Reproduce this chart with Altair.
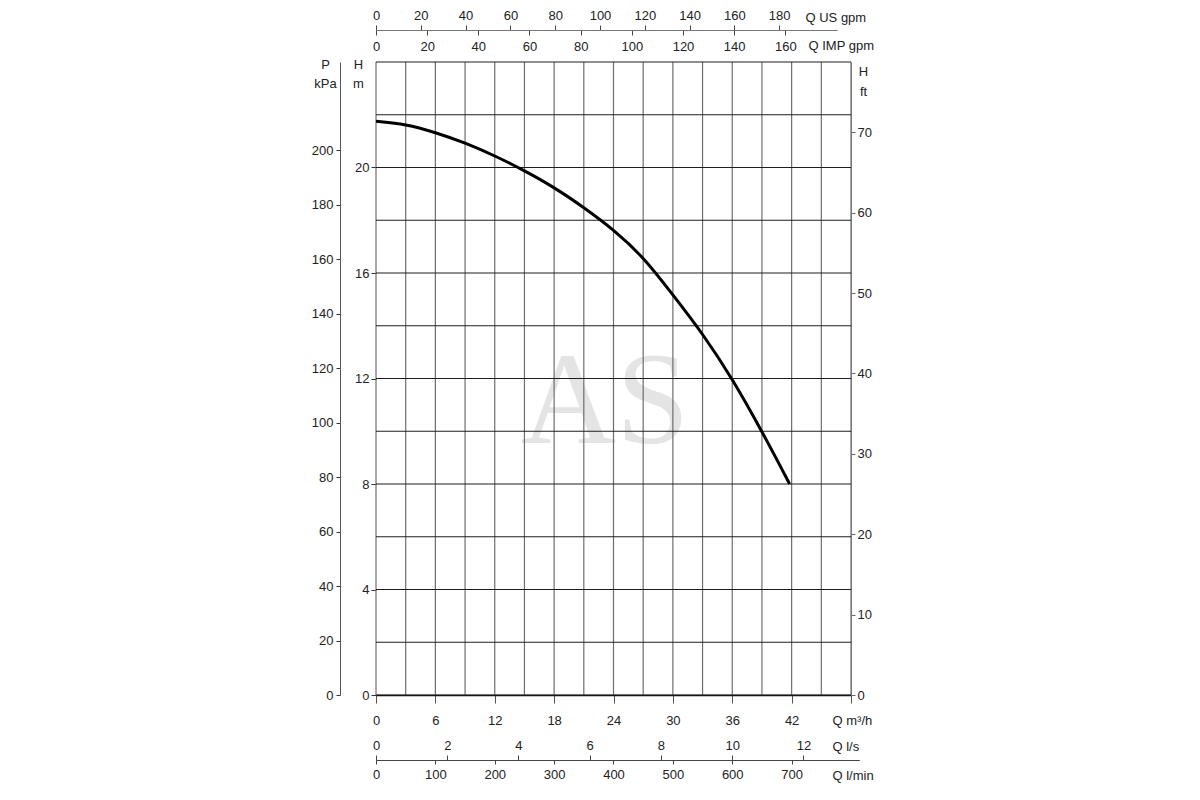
import altair as alt
import pandas as pd

# ---- data ----
q_m3h = [0, 3, 6, 9, 12, 15, 18, 21, 24, 27, 30, 33, 36, 39, 41.8]
h_m = [21.75, 21.65, 21.33, 20.94, 20.45, 19.88, 19.25, 18.49, 17.65, 16.62, 15.17, 13.71, 12.0, 10.0, 8.0]

grid_q = [0, 3, 6, 9, 12, 15, 18, 21, 24, 27, 30, 33, 36, 39, 42, 45, 48]
grid_h = [0, 2, 4, 6, 8, 10, 12, 14, 16, 18, 20, 22, 24]

m3h_ticks = [0, 6, 12, 18, 24, 30, 36, 42, 48]
hm_ticks = [0, 4, 8, 12, 16, 20]
kpa_ticks = [0, 20, 40, 60, 80, 100, 120, 140, 160, 180, 200]
ft_ticks = [0, 10, 20, 30, 40, 50, 60, 70]
us_ticks = [0, 20, 40, 60, 80, 100, 120, 140, 160, 180]
imp_ticks = [0, 20, 40, 60, 80, 100, 120, 140, 160]
ls_ticks = [0, 2, 4, 6, 8, 10, 12]
lmin_ticks = [0, 100, 200, 300, 400, 500, 600, 700]

W, H = 475, 633
FONT = "Liberation Sans"

def df(vals):
    return pd.DataFrame({"v": vals})

def ax(**kw):
    base = dict(labelFont=FONT, labelFontSize=13, labelColor="#222", labelFlush=False,
                titleFont=FONT, titleFontSize=13, titleFontWeight="normal",
                titleColor="#222", grid=False, tickColor="#333", domainColor="#333")
    base.update(kw)
    return alt.Axis(**base)

xs = alt.Scale(domain=[0, 48], nice=False, zero=False)
ys = alt.Scale(domain=[0, 24], nice=False, zero=False)

# watermark
wm = alt.Chart(pd.DataFrame({"t": ["AS"]})).mark_text(
    font="Liberation Serif", fontSize=132, color="#e4e4e4", align="center", baseline="alphabetic"
).encode(text="t:N", x=alt.value(229), y=alt.value(381))

# vertical grid (with bottom m3/h axis)
vgrid = alt.Chart(df(grid_q)).mark_rule(color="#6e6e6e", strokeWidth=1.2).encode(
    x=alt.X("v:Q", scale=xs, axis=ax(
        orient="bottom", values=m3h_ticks, tickSize=8, labelPadding=11,
        labelExpr="datum.value == 48 ? '' : datum.label",
        domainColor="#111", domainWidth=1.4, tickColor="#555",
        title="Q m³/h", titleX=456, titleY=25, titleAlign="left", titleBaseline="middle")))

# horizontal grid (with left H m axis)
hgrid = alt.Chart(df(grid_h)).mark_rule(color="#1e1e1e", strokeWidth=1.2).encode(
    y=alt.Y("v:Q", scale=ys, axis=ax(
        orient="left", values=hm_ticks, tickSize=5, labelPadding=2, domain=False,
        title=["H", "m"], titleAngle=0, titleX=-18, titleY=6, titleAlign="center",
        titleBaseline="alphabetic", titleLineHeight=19)))

curve = alt.Chart(pd.DataFrame({"q": q_m3h, "h": h_m})).mark_line(
    color="#000", strokeWidth=3, interpolate="basis"
).encode(
    x=alt.X("q:Q", scale=xs, axis=None),
    y=alt.Y("h:Q", scale=ys, axis=None),
)

inv = dict(opacity=0, size=1)

kpa = alt.Chart(df(kpa_ticks)).mark_point(**inv).encode(
    y=alt.Y("v:Q", scale=alt.Scale(domain=[0, 232.3], nice=False, zero=False), axis=ax(
        orient="left", offset=36, values=kpa_ticks, tickSize=4, labelPadding=3,
        domainColor="#555",
        title=["P", "kPa"], titleAngle=0, titleX=-15, titleY=6, titleAlign="center",
        titleBaseline="alphabetic", titleLineHeight=19)))

ft = alt.Chart(df(ft_ticks)).mark_point(**inv).encode(
    y=alt.Y("v:Q", scale=alt.Scale(domain=[0, 78.74], nice=False, zero=False), axis=ax(
        orient="right", values=ft_ticks, tickSize=4, labelPadding=2,
        domainColor="#888", tickColor="#666",
        title=["H", "ft"], titleAngle=0, titleX=12, titleY=13, titleAlign="center",
        titleBaseline="alphabetic", titleLineHeight=20)))

us = alt.Chart(df(us_ticks)).mark_point(**inv).encode(
    x=alt.X("v:Q", scale=alt.Scale(domain=[0, 205.8], range=[0, 461], nice=False, zero=False), axis=ax(
        orient="top", offset=32, values=us_ticks, tickSize=5, labelPadding=3,
        domainColor="#777", tickColor="#444",
        title="Q US gpm", titleX=429, titleY=-13, titleAlign="left", titleBaseline="middle")))

imp = alt.Chart(df(imp_ticks)).mark_point(**inv).encode(
    x=alt.X("v:Q", scale=alt.Scale(domain=[0, 180.2], range=[0, 461], nice=False, zero=False), axis=ax(
        orient="bottom", offset=-665, values=imp_ticks, tickSize=5, labelPadding=5,
        domainColor="#777", tickColor="#444",
        title="Q IMP gpm", titleX=432, titleY=15, titleAlign="left", titleBaseline="middle")))

ls = alt.Chart(df(ls_ticks)).mark_point(**inv).encode(
    x=alt.X("v:Q", scale=alt.Scale(domain=[0, 13.56], range=[0, 483], nice=False, zero=False), axis=ax(
        orient="top", offset=-698, values=ls_ticks, tickSize=5, labelPadding=3,
        domainColor="#444", tickColor="#444",
        title="Q l/s", titleX=456, titleY=-14, titleAlign="left", titleBaseline="middle")))

lmin = alt.Chart(df(lmin_ticks)).mark_point(**inv).encode(
    x=alt.X("v:Q", scale=alt.Scale(domain=[0, 813.5], range=[0, 483], nice=False, zero=False), axis=ax(
        orient="bottom", offset=65, values=lmin_ticks, tickSize=4, labelPadding=4,
        domainColor="#444", tickColor="#444",
        title="Q l/min", titleX=456, titleY=15, titleAlign="left", titleBaseline="middle")))

chart = alt.layer(wm, vgrid, hgrid, curve, kpa, ft, us, imp, ls, lmin).resolve_scale(
    x="independent", y="independent"
).properties(
    width=W, height=H,
    autosize=alt.AutoSizeParams(type="none"),
    padding={"left": 368, "top": 54, "right": 330, "bottom": 90},
    background="white",
).configure_view(stroke=None)

chart.save("out.html", embed_options={"renderer": "svg", "actions": False})
